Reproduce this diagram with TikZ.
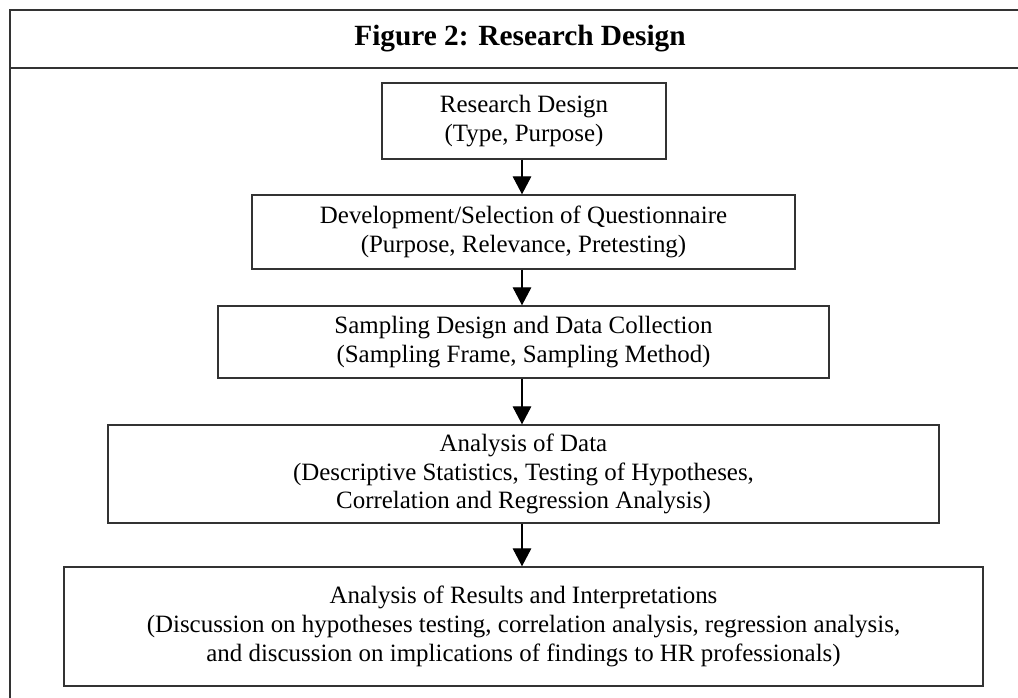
\documentclass[tikz,border=0pt]{standalone}
\usepackage{fontspec}
\setmainfont{Liberation Serif}
\usetikzlibrary{arrows.meta}
\begin{document}
\begin{tikzpicture}[x=0.75pt,y=-0.75pt,
  frameline/.style={line width=1.2pt,draw=black!80},
  stepbox/.style={draw=black!80,line width=1.1pt,align=center,inner sep=0pt,
    font=\fontsize{18.7}{21.5}\selectfont},
  flow/.style={draw=black,line width=0.8pt,-{Triangle[width=14pt,length=13.5pt]}}]
\useasboundingbox (0,0) rectangle (1018,698);
% frame
\draw[frameline] (1018,10) -- (10,10) -- (10,698);
\draw[frameline] (10,68) -- (1018,68);
\node[font=\fontsize{22}{26}\selectfont\bfseries] (title) at (520,39) {Figure 2: Research Design};
% boxes
\node[stepbox,minimum width=284*0.75pt,minimum height=76*0.75pt] (b1) at (524,121)
  {Research Design\\(Type, Purpose)};
\node[stepbox,minimum width=543*0.75pt,minimum height=74*0.75pt] (b2) at (523.5,232)
  {Development/Selection of Questionnaire\\(Purpose, Relevance, Pretesting)};
\node[stepbox,minimum width=611*0.75pt,minimum height=72*0.75pt] (b3) at (523.5,342)
  {Sampling Design and Data Collection\\(Sampling Frame, Sampling Method)};
\node[stepbox,minimum width=831*0.75pt,minimum height=98*0.75pt] (b4) at (523.5,474)
  {Analysis of Data\\(Descriptive Statistics, Testing of Hypotheses,\\Correlation and Regression Analysis)};
\node[stepbox,minimum width=919*0.75pt,minimum height=119*0.75pt] (b5) at (523.5,626.5)
  {Analysis of Results and Interpretations\\(Discussion on hypotheses testing, correlation analysis, regression analysis,\\and discussion on implications of findings to HR professionals)};
% arrows
\draw[flow] (b1.south -| 522,0) -- (b2.north -| 522,0);
\draw[flow] (b2.south -| 522,0) -- (b3.north -| 522,0);
\draw[flow] (b3.south -| 522,0) -- (b4.north -| 522,0);
\draw[flow] (b4.south -| 522,0) -- (b5.north -| 522,0);
\end{tikzpicture}
\end{document}
